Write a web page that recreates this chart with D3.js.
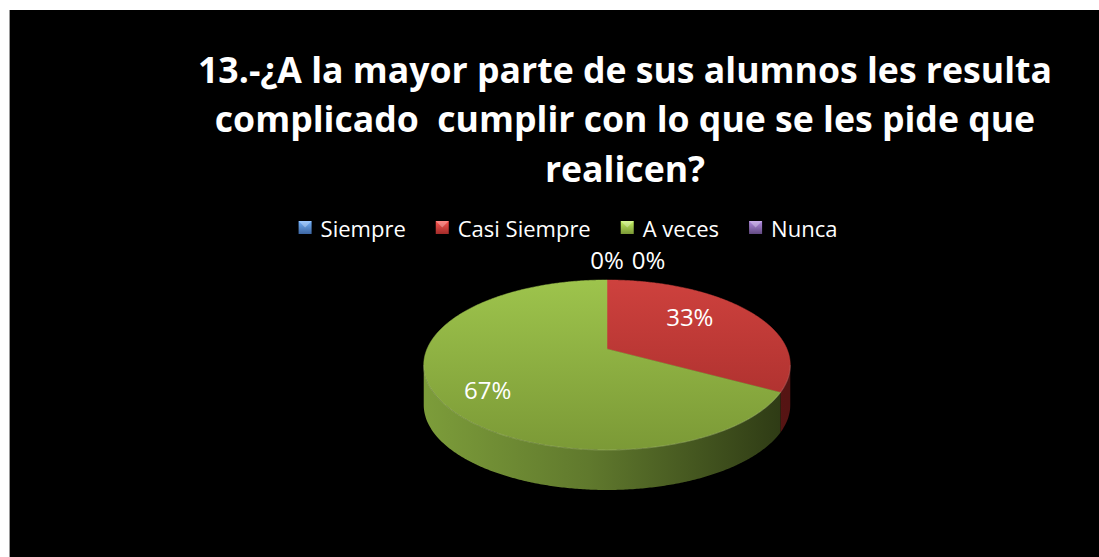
<!DOCTYPE html>
<html><head><meta charset="utf-8">
<script src="https://cdn.jsdelivr.net/npm/d3@7"></script>
<style>html,body{margin:0;padding:0;background:#fff;overflow:hidden} svg{display:block}</style>
</head><body>
<svg id="c" width="1099" height="557"></svg>
<script>
// ---- data ----
const titleLines = ["13.-¿A la mayor parte de sus alumnos les resulta", "complicado  cumplir con lo que se les pide que", "realicen?"];
const categories = ["Siempre", "Casi Siempre", "A veces", "Nunca"];
const values = [0, 33, 67, 0];
const valueLabels = ["0%", "33%", "67%", "0%"];

// ---- styles ----
const topLight = ["#5b8fd0", "#d1433f", "#a0c74e", "#8f6fb6"];
const topDark  = ["#3d66a3", "#a22b29", "#7b9936", "#624a82"];
const sideLight = ["#3a5f94", "#7e2220", "#7c9c3a", "#5d467d"];
const sideDark  = ["#22395b", "#551413", "#2d3914", "#3a2c4f"];

const W = 1099, H = 557;
const svg = d3.select("#c");
const defs = svg.append("defs");

// background
svg.append("rect").attr("x", 10).attr("y", 10).attr("width", W - 10).attr("height", H - 10).attr("fill", "#000");
svg.append("line").attr("x1", 9.5).attr("x2", 9.5).attr("y1", 10).attr("y2", H).attr("stroke", "#9a9a9a").attr("stroke-width", 1);

// ---- title ----
const titleFont = "'Open Sans', 'DejaVu Sans', sans-serif";
const titleCx = 625, titleBase = [83, 132, 182], titleTargetW0 = 854;
const tg = svg.append("g");
const tNodes = titleLines.map((t, i) => tg.append("text")
  .attr("x", titleCx).attr("y", titleBase[i]).attr("text-anchor", "middle")
  .attr("font-family", titleFont).attr("font-weight", 700).attr("font-size", 36)
  .attr("fill", "#fff").style("white-space", "pre").attr("xml:space", "preserve").text(t));
const nat0 = tNodes[0].node().getComputedTextLength();
const sx = titleTargetW0 / nat0;
tNodes.forEach(n => {
  const w = n.node().getComputedTextLength();
  n.attr("textLength", w * sx).attr("lengthAdjust", "spacingAndGlyphs");
});

// ---- legend ----
const legFont = "'Open Sans', 'DejaVu Sans', sans-serif";
const legendY = 237, legendCx = 568, legendGap = 30, markerS = 13, markerGap = 9;
const lg = svg.append("g");
const items = categories.map((c, i) => {
  const g = lg.append("g");
  const grad = defs.append("linearGradient").attr("id", "lm" + i).attr("x1", 0).attr("y1", 0).attr("x2", 0).attr("y2", 1);
  grad.append("stop").attr("offset", 0).attr("stop-color", d3.color(topLight[i]).brighter(0.6));
  grad.append("stop").attr("offset", 0.45).attr("stop-color", topLight[i]);
  grad.append("stop").attr("offset", 1).attr("stop-color", topDark[i]);
  const y0 = legendY - 16;
  g.append("rect").attr("x", 0).attr("y", y0).attr("width", markerS).attr("height", markerS)
    .attr("fill", `url(#lm${i})`);
  g.append("path").attr("d", `M0,${y0}L${markerS / 2},${y0 + markerS / 2}L${markerS},${y0}Z`)
    .attr("fill", "rgba(255,255,255,0.3)");
  const t = g.append("text").attr("x", markerS + markerGap).attr("y", legendY)
    .attr("font-family", legFont).attr("font-size", 22).attr("fill", "#fff").text(c);
  const w = markerS + markerGap + t.node().getComputedTextLength();
  return {g, w};
});
const totalW = d3.sum(items, d => d.w) + legendGap * (items.length - 1);
let lx = legendCx - totalW / 2;
items.forEach(it => { it.g.attr("transform", `translate(${lx},0)`); lx += it.w + legendGap; });

// ---- 3D pie ----
const cx = 607, cy = 349, rx = 180, ay = 82, persp = -0.188, depth = 40;
function proj(theta, r = 1) {
  const u = r * Math.sin(theta), v = -r * Math.cos(theta);
  const d = 1 + persp * v;
  return [cx + rx * u / d, cy + ay * v / d, v];
}
const arcs = d3.pie().sort(null).value(d => d)(values);

// silhouette angles (rightmost and leftmost rim points)
const scan = d3.range(0, 3600).map(k => k / 3600 * 2 * Math.PI);
const thR = scan[d3.maxIndex(scan, t => proj(t)[0])];
const thL = scan[d3.minIndex(scan, t => proj(t)[0])];

// gradients
arcs.forEach((a, i) => {
  const gt = defs.append("linearGradient").attr("id", "top" + i).attr("gradientUnits", "userSpaceOnUse")
    .attr("x1", 0).attr("y1", cy - ay).attr("x2", 0).attr("y2", cy + ay * 1.25);
  gt.append("stop").attr("offset", 0).attr("stop-color", topLight[i]);
  gt.append("stop").attr("offset", 1).attr("stop-color", topDark[i]);
  const gs = defs.append("linearGradient").attr("id", "side" + i).attr("gradientUnits", "userSpaceOnUse")
    .attr("x1", cx - rx).attr("y1", 0).attr("x2", cx + rx).attr("y2", 0);
  gs.append("stop").attr("offset", 0).attr("stop-color", sideLight[i]);
  gs.append("stop").attr("offset", 0.45).attr("stop-color", d3.interpolateRgb(sideLight[i], sideDark[i])(0.35));
  gs.append("stop").attr("offset", 1).attr("stop-color", sideDark[i]);
});

function rimPoints(t0, t1) {
  const n = Math.max(2, Math.ceil((t1 - t0) / (Math.PI / 360)));
  return d3.range(n + 1).map(k => proj(t0 + (t1 - t0) * k / n));
}

// side walls (front, visible part only)
const sideG = svg.append("g");
arcs.forEach((a, i) => {
  const s = Math.max(a.startAngle, thR), e = Math.min(a.endAngle, thL);
  if (e <= s) return;
  const pts = rimPoints(s, e);
  const d = "M" + pts.map(p => `${p[0]},${p[1]}`).join("L") + "L" +
    pts.slice().reverse().map(p => `${p[0]},${p[1] + depth}`).join("L") + "Z";
  sideG.append("path").attr("d", d).attr("fill", `url(#side${i})`);
});

// top faces
const topG = svg.append("g");
arcs.forEach((a, i) => {
  if (a.endAngle - a.startAngle <= 0) return;
  const pts = rimPoints(a.startAngle, a.endAngle);
  const c = proj(0, 0);
  const d = `M${c[0]},${c[1]}` + pts.map(p => `L${p[0]},${p[1]}`).join("") + "Z";
  topG.append("path").attr("d", d).attr("fill", `url(#top${i})`)
    .attr("stroke", `url(#top${i})`).attr("stroke-width", 0.5);
});
// soft rim highlight on the front edge
const rimHi = rimPoints(thR, thL);
svg.append("path").attr("d", "M" + rimHi.map(p => `${p[0]},${p[1]}`).join("L"))
  .attr("fill", "none").attr("stroke", "rgba(255,255,255,0.12)").attr("stroke-width", 1.2);

// ---- data labels ----
const labFont = "'Open Sans', 'DejaVu Sans', sans-serif";
const labG = svg.append("g");
const placed = [];
arcs.forEach((a, i) => {
  const mid = (a.startAngle + a.endAngle) / 2;
  const t = labG.append("text").attr("font-family", labFont).attr("font-size", 24)
    .attr("fill", "#fff").attr("text-anchor", "middle").text(valueLabels[i]);
  const w = t.node().getComputedTextLength();
  let x, y;
  if (a.value === 0) {
    const p = proj(mid, 1);
    x = p[0]; y = p[1] - 11;
    placed.forEach(q => { if (Math.abs(q.y - y) < 20 && x - w / 2 < q.x + q.w / 2 + 8) x = q.x + q.w / 2 + 8 + w / 2; });
    placed.push({x, y, w});
  } else {
    const p = proj(mid, 0.65);
    x = p[0] - 12;
    y = p[1] + 3 + depth * 0.9 * Math.max(0, -Math.cos(mid));
  }
  t.attr("x", x).attr("y", y);
});
</script>
</body></html>
